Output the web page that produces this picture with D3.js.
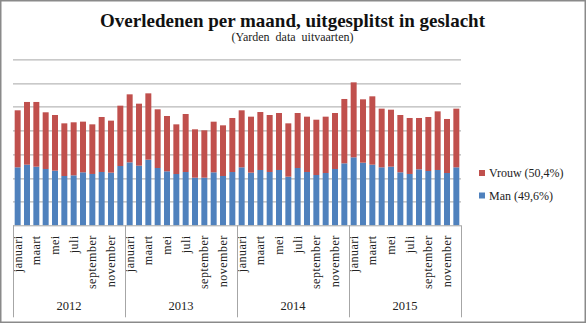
<!DOCTYPE html>
<html>
<head>
<meta charset="utf-8">
<script src="https://cdn.jsdelivr.net/npm/d3@7"></script>
<style>
  html, body { margin: 0; padding: 0; background: #fff; }
  svg { display: block; }
  text { font-family: "Liberation Serif", "DejaVu Serif", serif; fill: #222; }
</style>
</head>
<body>
<div id="chart"></div>
<script>
// monthly deaths per gender, 2012-2015
const years = ['2012', '2013', '2014', '2015'];
const monthNames = ['januari', 'februari', 'maart', 'april', 'mei', 'juni',
    'juli', 'augustus', 'september', 'oktober', 'november', 'december'];

const man = [
    1223, 1279, 1237, 1188, 1153, 1040, 1054, 1118, 1083, 1125, 1111, 1251,
    1328, 1258, 1385, 1209, 1139, 1082, 1124, 1005, 1005, 1118, 1040, 1124,
    1223, 1111, 1167, 1125, 1167, 1026, 1209, 1125, 1061, 1103, 1188, 1307,
    1434, 1321, 1279, 1223, 1237, 1118, 1083, 1181, 1146, 1167, 1103, 1223
];
const vrouw = [
    1203, 1323, 1365, 1196, 1174, 1111, 1119, 1069, 1047, 1160, 1097, 1273,
    1435, 1308, 1399, 1238, 1167, 1048, 1224, 1020, 999, 1068, 1069, 1140,
    1203, 1181, 1223, 1202, 1202, 1125, 1160, 1167, 1167, 1189, 1181, 1358,
    1582, 1337, 1442, 1238, 1202, 1209, 1181, 1083, 1139, 1237, 1140, 1238
];
const legendLabels = ['Vrouw (50,4%)', 'Man (49,6%)'];

const W = 586, H = 323;
const margin = {top: 59.4, left: 13, right: 125, bottom: 97.7};
const plotW = W - margin.left - margin.right;
const plotH = H - margin.top - margin.bottom;

const colors = {man: '#4f81bd', vrouw: '#c0504d'};

const data = man.map((m, i) => ({
    key: years[Math.floor(i / 12)] + '-' + i % 12,
    month: i % 12,
    year: years[Math.floor(i / 12)],
    man: m,
    vrouw: vrouw[i]
}));

const svg = d3.select('#chart')
    .append('svg')
    .attr('width', W)
    .attr('height', H);

// outer frame
svg.append('rect')
    .attr('x', 0.75).attr('y', 0.75)
    .attr('width', W - 1.5).attr('height', H - 1.5)
    .attr('fill', '#fff')
    .attr('stroke', '#8a8a8a')
    .attr('stroke-width', 1.5);

svg.append('text')
    .attr('x', 292.5).attr('y', 26.7)
    .attr('text-anchor', 'middle')
    .style('font-size', '19px')
    .style('font-weight', 'bold')
    .style('fill', '#111')
    .text('Overledenen per maand, uitgesplitst in geslacht');

svg.append('text')
    .attr('x', 292.5).attr('y', 40.5)
    .attr('text-anchor', 'middle')
    .style('font-size', '12px')
    .style('white-space', 'pre')
    .text('(Yarden  data  uitvaarten)');

const g = svg.append('g')
    .attr('transform', `translate(${margin.left},${margin.top})`);

const xScale = d3.scaleBand()
    .domain(data.map(d => d.key))
    .range([0, plotW])
    .paddingInner(0.36)
    .paddingOuter(0.18);

const yScale = d3.scaleLinear()
    .domain([0, 3500])
    .range([plotH, 0]);

// horizontal gridlines
g.append('g')
    .selectAll('line')
    .data(yScale.ticks(7).filter(t => t > 0))
    .join('line')
    .attr('x1', 0).attr('x2', plotW)
    .attr('y1', d => Math.round(yScale(d)) + 0.5)
    .attr('y2', d => Math.round(yScale(d)) + 0.5)
    .attr('stroke', '#a6a6a6')
    .attr('stroke-width', 1);

const series = d3.stack().keys(['man', 'vrouw'])(data);

g.append('g')
    .selectAll('g')
    .data(series)
    .join('g')
    .attr('fill', s => colors[s.key])
    .selectAll('rect')
    .data(s => s)
    .join('rect')
    .attr('x', d => xScale(d.data.key))
    .attr('width', xScale.bandwidth())
    .attr('y', d => yScale(d[1]))
    .attr('height', d => yScale(d[0]) - yScale(d[1]));

// x axis line
g.append('line')
    .attr('x1', 0).attr('x2', plotW)
    .attr('y1', plotH + 0.5).attr('y2', plotH + 0.5)
    .attr('stroke', '#a6a6a6');

// month labels, every other month
g.append('g')
    .selectAll('text')
    .data(data.filter(d => d.month % 2 === 0))
    .join('text')
    .attr('transform', d =>
        `translate(${xScale(d.key) + xScale.bandwidth() / 2 + 4},${plotH + 10}) rotate(-90)`)
    .attr('text-anchor', 'end')
    .style('font-size', '12px')
    .style('letter-spacing', '0.5px')
    .text(d => monthNames[d.month]);

// year separators and labels
const yearW = plotW / years.length;
g.append('g')
    .selectAll('line')
    .data(d3.range(years.length + 1))
    .join('line')
    .attr('x1', i => Math.round(i * yearW) + 0.5)
    .attr('x2', i => Math.round(i * yearW) + 0.5)
    .attr('y1', plotH)
    .attr('y2', plotH + 92)
    .attr('stroke', '#a6a6a6');

g.append('g')
    .selectAll('text')
    .data(years)
    .join('text')
    .attr('x', (d, i) => (i + 0.5) * yearW)
    .attr('y', plotH + 85)
    .attr('text-anchor', 'middle')
    .style('font-size', '12.5px')
    .text(d => d);

// legend
const legend = svg.append('g')
    .attr('transform', 'translate(479,173)');

legend.selectAll('g')
    .data([colors.vrouw, colors.man])
    .join('g')
    .attr('transform', (d, i) => `translate(0,${i * 22.5})`)
    .each(function (c, i) {
        const item = d3.select(this);
        item.append('rect')
            .attr('x', 0).attr('y', -3)
            .attr('width', 6).attr('height', 6)
            .attr('fill', c);
        item.append('text')
            .attr('x', 10).attr('y', 4)
            .style('font-size', '12px')
            .text(legendLabels[i]);
    });
</script>
</body>
</html>
